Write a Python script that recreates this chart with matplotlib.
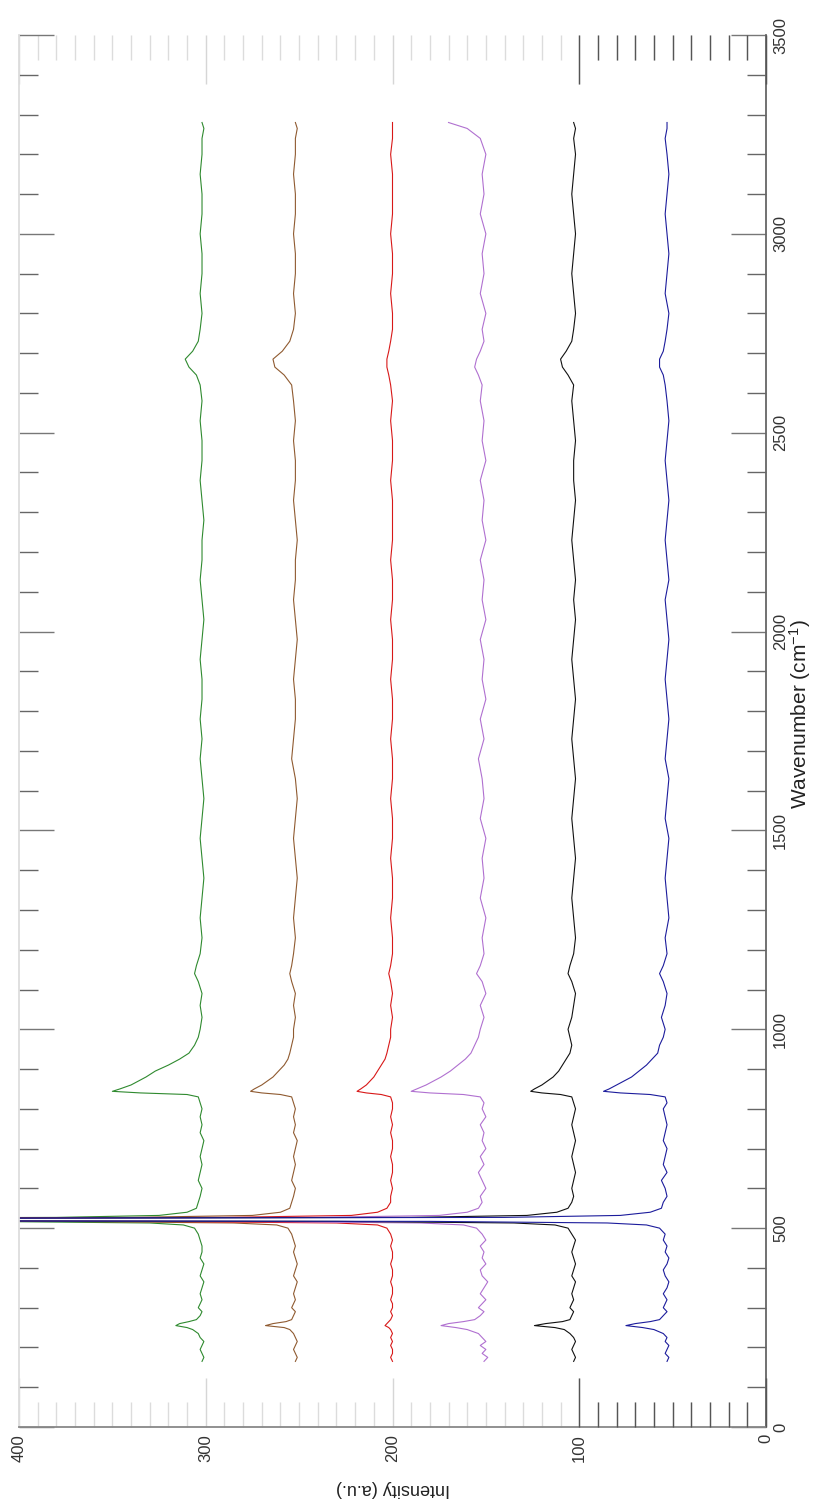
import matplotlib
matplotlib.use("Agg")
import matplotlib.pyplot as plt
from matplotlib.ticker import MultipleLocator

plt.rcParams['font.family'] = ['Liberation Sans', 'DejaVu Sans']
plt.rcParams['mathtext.default'] = 'regular'

wavenumber = [165, 175, 185, 195, 205, 215, 225, 235, 245, 250,
              255, 260, 265, 270, 280, 290, 300, 310, 320, 335,
              350, 365, 380, 395, 410, 425, 440, 455, 470, 485,
              500, 508, 513, 517, 520, 523, 527, 532, 540, 550,
              565, 580, 600, 620, 640, 660, 680, 700, 720, 740,
              760, 780, 800, 815, 830, 836, 840, 844, 850, 860,
              870, 880, 895, 910, 925, 940, 960, 980, 1000, 1030,
              1060, 1090, 1120, 1140, 1160, 1190, 1230, 1280, 1330, 1380,
              1430, 1480, 1530, 1580, 1630, 1680, 1730, 1780, 1830, 1880,
              1930, 1980, 2030, 2080, 2130, 2180, 2230, 2280, 2330, 2380,
              2430, 2480, 2530, 2580, 2620, 2645, 2665, 2685, 2705, 2730,
              2760, 2800, 2850, 2900, 2950, 3000, 3050, 3100, 3150, 3200,
              3240, 3265, 3280]

green = [302, 301, 302, 303, 302, 301, 303, 304, 307, 310,
         316, 314, 309, 305, 303, 302, 304, 303, 302, 303,
         302, 301, 303, 302, 301, 303, 302, 302, 303, 304,
         306, 312, 330, 420, 800, 700, 380, 325, 310, 305,
         304, 303, 302, 304, 303, 302, 303, 302, 301, 303,
         302, 303, 302, 303, 304, 310, 335, 350, 346, 340,
         336, 332, 327, 320, 314, 309, 306, 304, 303, 302,
         303, 302, 304, 306, 305, 303, 302, 303, 302, 301,
         302, 303, 302, 301, 302, 303, 302, 303, 302, 302,
         303, 302, 301, 302, 303, 302, 302, 301, 302, 303,
         302, 302, 303, 302, 303, 305, 309, 311, 307, 304,
         303, 302, 303, 302, 302, 303, 302, 302, 303, 302,
         302, 301, 302]
brown = [252, 251, 252, 253, 252, 251, 252, 253, 255, 258,
         268, 264, 257, 254, 253, 252, 254, 253, 252, 253,
         252, 251, 253, 252, 251, 252, 253, 252, 253, 254,
         256, 262, 285, 380, 800, 700, 340, 275, 260, 255,
         254, 253, 252, 254, 253, 252, 253, 252, 251, 253,
         252, 253, 252, 253, 254, 260, 270, 276, 274, 270,
         267, 264, 261, 258, 256, 255, 254, 253, 253, 252,
         253, 252, 254, 255, 254, 253, 252, 253, 252, 251,
         252, 253, 252, 251, 252, 254, 253, 252, 252, 253,
         252, 251, 252, 253, 252, 252, 251, 252, 253, 252,
         252, 253, 252, 253, 254, 258, 263, 264, 259, 255,
         253, 252, 253, 252, 252, 253, 252, 252, 253, 252,
         252, 251, 252]
red = [200, 201, 200, 200, 201, 200, 201, 200, 201, 202,
       204, 203, 202, 201, 200, 201, 200, 200, 201, 200,
       200, 201, 200, 200, 201, 200, 200, 201, 200, 201,
       203, 208, 230, 330, 800, 700, 290, 222, 208, 203,
       201, 201, 200, 201, 200, 200, 201, 200, 200, 201,
       200, 201, 200, 200, 201, 206, 214, 219, 217, 214,
       212, 210, 208, 206, 204, 203, 202, 201, 201, 200,
       201, 200, 201, 202, 201, 200, 200, 201, 200, 200,
       201, 200, 200, 201, 200, 200, 201, 200, 200, 201,
       200, 200, 201, 200, 200, 201, 200, 200, 200, 201,
       200, 200, 201, 200, 201, 202, 203, 203, 202, 201,
       200, 200, 201, 200, 200, 201, 200, 200, 200, 201,
       200, 200, 200]
violet = [151, 149, 152, 150, 153, 150, 152, 154, 160, 166,
          174, 170, 162, 156, 153, 151, 154, 152, 150, 153,
          151, 149, 152, 153, 150, 152, 151, 153, 150, 152,
          155, 162, 185, 280, 800, 700, 240, 175, 160, 154,
          152, 153, 150, 152, 154, 151, 153, 150, 152, 151,
          153, 150, 152, 151, 153, 162, 180, 190, 187, 182,
          178, 174, 169, 165, 161, 158, 156, 154, 153, 151,
          153, 150, 152, 155, 153, 151, 152, 150, 153, 151,
          152, 150, 153, 151, 152, 154, 151, 153, 150, 152,
          151, 153, 150, 152, 151, 153, 150, 152, 151, 153,
          150, 152, 151, 153, 152, 154, 156, 155, 153, 151,
          152, 150, 153, 151, 152, 150, 153, 151, 152, 150,
          153, 160, 170]
black = [103, 102, 103, 104, 103, 102, 103, 105, 108, 113,
         124, 118, 109, 105, 104, 103, 105, 104, 103, 104,
         103, 102, 104, 103, 102, 103, 104, 103, 102, 104,
         106, 113, 135, 230, 800, 700, 190, 128, 112, 106,
         104, 103, 104, 103, 102, 103, 104, 103, 102, 103,
         104, 103, 102, 103, 104, 110, 120, 126, 124, 120,
         117, 114, 111, 109, 107, 105, 104, 105, 106, 104,
         103, 102, 104, 106, 105, 103, 102, 103, 104, 103,
         102, 103, 104, 103, 102, 103, 104, 103, 102, 103,
         104, 103, 102, 103, 102, 103, 104, 103, 102, 103,
         103, 102, 103, 104, 103, 106, 109, 110, 107, 104,
         103, 102, 103, 104, 103, 102, 103, 104, 103, 102,
         103, 102, 103]
blue = [53, 52, 54, 53, 52, 54, 53, 55, 60, 66,
        75, 70, 62, 57, 55, 53, 55, 54, 53, 55,
        53, 52, 54, 55, 53, 52, 54, 53, 55, 54,
        57, 64, 85, 180, 800, 700, 140, 78, 62, 56,
        55, 53, 54, 56, 53, 55, 54, 53, 55, 54,
        53, 54, 55, 53, 54, 62, 78, 87, 84, 80,
        76, 72, 68, 64, 61, 58, 57, 55, 54, 56,
        54, 53, 55, 57, 55, 53, 54, 52, 53, 54,
        53, 52, 54, 53, 52, 54, 53, 52, 53, 54,
        53, 52, 53, 54, 52, 53, 54, 53, 52, 53,
        54, 53, 52, 53, 54, 55, 57, 57, 55, 54,
        53, 52, 54, 53, 52, 53, 54, 53, 52, 53,
        54, 53, 53]

series = [("green", green, "#2f8a2f"), ("brown", brown, "#8f5a30"), ("red", red, "#d81818"),
          ("violet", violet, "#b070d0"), ("black", black, "#111111"), ("blue", blue, "#1c1c9c")]

intensity_labelled_ticks = [0, 100, 200, 300, 400]
dark_major_ticks = [0, 100]
dark_minor_ticks = [10, 20, 30, 40, 50, 60, 70, 80, 90]

W, H = 814, 1499
fig = plt.figure(figsize=(W / 100, H / 100), dpi=100)
pos = [19 / W, 72 / H, 747 / W, 1392 / H]
ax = fig.add_axes(pos)

for name, vals, col in series:
    ax.plot(vals, wavenumber, color=col, lw=0.8)

ax.set_xlim(400, 0)
ax.set_ylim(0, 3500)
ax.set_xticks(intensity_labelled_ticks)
ax.xaxis.set_minor_locator(MultipleLocator(10))
ax.yaxis.set_major_locator(MultipleLocator(500))
ax.yaxis.set_minor_locator(MultipleLocator(100))

ax.tick_params(which='both', direction='in', top=True, bottom=True, left=True, right=True,
               labelbottom=True, labelright=True, labelleft=False, labeltop=False,
               width=1.0, labelsize=12, labelcolor='#333333')
ax.tick_params(axis='x', which='major', length=35, pad=5, labelrotation=90, color='#d6d6d6')
ax.tick_params(axis='x', which='minor', length=18, color='#dcdcdc')
ax.tick_params(axis='y', which='major', length=25, pad=5, labelrotation=90, color='#777777')
ax.tick_params(axis='y', which='minor', length=14, color='#666666')
for lab in ax.get_yticklabels():
    lab.set_va('center')
    lab.set_ha('left')

ax.spines['top'].set_visible(False)
ax.spines['left'].set_color('#dddddd')
ax.spines['right'].set_color('#666666')
ax.spines['bottom'].set_color('#888888')
for s in ax.spines.values():
    s.set_linewidth(1.3)

# overlay axes carrying the darker intensity ticks near the origin
ax2 = fig.add_axes(pos, frameon=False)
ax2.set_xlim(400, 0)
ax2.set_ylim(0, 3500)
ax2.set_xticks(dark_major_ticks)
ax2.set_xticks(dark_minor_ticks, minor=True)
ax2.set_yticks([])
ax2.tick_params(axis='x', which='both', direction='in', top=True, bottom=True,
                labelbottom=False, labeltop=False, color='#555555', width=1.0)
ax2.tick_params(axis='x', which='major', length=35)
ax2.tick_params(axis='x', which='minor', length=18)
ax2.patch.set_visible(False)

fig.text(392.5 / W, 1 - 1488 / H, 'Intensity (a.u.)', rotation=180, ha='center', va='center',
         fontsize=13, color='#222222')
fig.text(800 / W, 1 - 714 / H, 'Wavenumber (cm$^{-1}$)', rotation=90, ha='center', va='center',
         fontsize=15, color='#222222')

fig.savefig('out.png', dpi=100)
